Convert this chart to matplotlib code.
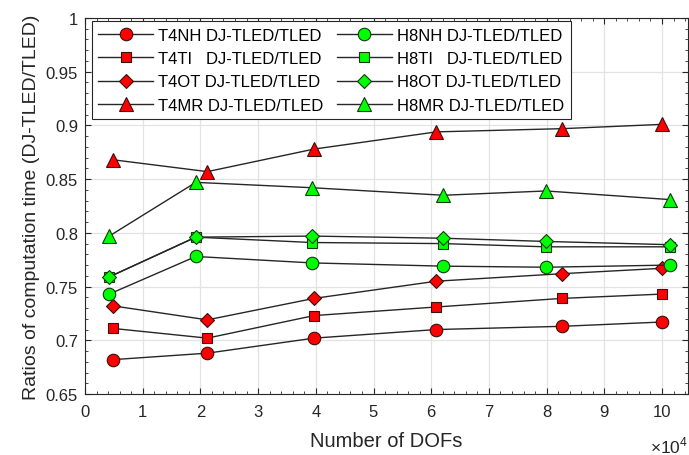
import matplotlib
matplotlib.use("Agg")
import matplotlib.pyplot as plt
from matplotlib.ticker import MultipleLocator

plt.rcParams["font.family"] = ["Liberation Sans", "DejaVu Sans"]
plt.rcParams["mathtext.fontset"] = "custom"
plt.rcParams["mathtext.rm"] = "Liberation Sans"

# ── 数据 (DOFs 单位: 1e4) ──
dofs_t4 = [0.49, 2.12, 3.97, 6.09, 8.27, 10.0]
dofs_h8 = [0.42, 1.92, 3.94, 6.21, 7.99, 10.13]

t4nh = [0.682, 0.688, 0.702, 0.710, 0.713, 0.717]
t4ti = [0.711, 0.702, 0.723, 0.731, 0.739, 0.743]
t4ot = [0.732, 0.719, 0.739, 0.755, 0.762, 0.767]
t4mr = [0.868, 0.857, 0.878, 0.894, 0.897, 0.901]

h8nh = [0.743, 0.778, 0.772, 0.769, 0.768, 0.770]
h8ti = [0.759, 0.796, 0.791, 0.790, 0.787, 0.787]
h8ot = [0.759, 0.796, 0.797, 0.795, 0.792, 0.789]
h8mr = [0.797, 0.847, 0.842, 0.835, 0.839, 0.831]

labels_t4 = ["T4NH DJ-TLED/TLED", "T4TI   DJ-TLED/TLED",
             "T4OT DJ-TLED/TLED", "T4MR DJ-TLED/TLED"]
labels_h8 = ["H8NH DJ-TLED/TLED", "H8TI   DJ-TLED/TLED",
             "H8OT DJ-TLED/TLED", "H8MR DJ-TLED/TLED"]

markers = ["o", "s", "D", "^"]
msizes = [9, 7, 7.5, 9.5]

fig = plt.figure(figsize=(6.89, 4.56), dpi=100)
ax = fig.add_axes([0.1234, 0.1338, 0.8751, 0.8245])

handles = []
for ys, lab, m, ms in zip([t4nh, t4ti, t4ot, t4mr], labels_t4, markers, msizes):
    h, = ax.plot(dofs_t4, ys, color="#262626", lw=1.0, marker=m, ms=ms,
                 mfc="#ff0000", mec="#3a1010", mew=0.8, label=lab, zorder=3)
    handles.append(h)
for ys, lab, m, ms in zip([h8nh, h8ti, h8ot, h8mr], labels_h8, markers, msizes):
    h, = ax.plot(dofs_h8, ys, color="#262626", lw=1.0, marker=m, ms=ms,
                 mfc="#00ff00", mec="#103a10", mew=0.8, label=lab, zorder=3)
    handles.append(h)

ax.set_xlim(0, 10.45)
ax.set_ylim(0.65, 1.0)
ax.xaxis.set_major_locator(MultipleLocator(1))
ax.xaxis.set_minor_locator(MultipleLocator(0.2))
ax.yaxis.set_major_locator(MultipleLocator(0.05))
ax.yaxis.set_minor_locator(MultipleLocator(0.01))
ax.yaxis.set_major_formatter(plt.FuncFormatter(lambda v, p: f"{v:g}"))

ax.grid(True, which="major", color="#e3e3e3", lw=0.9)
ax.set_axisbelow(True)
ax.tick_params(which="both", direction="in", top=True, right=True,
               colors="#262626", labelsize=12)
ax.tick_params(axis="x", pad=7.5)
ax.tick_params(axis="y", pad=5)
ax.tick_params(which="major", length=4)
ax.tick_params(which="minor", length=2)
for s in ax.spines.values():
    s.set_color("#262626")
    s.set_linewidth(0.8)

ax.set_xlabel("Number of DOFs", fontsize=14.5, color="#262626", labelpad=8)
ax.set_ylabel("Ratios of computation time (DJ-TLED/TLED)", fontsize=14,
              color="#262626", labelpad=4)
ax.text(1.0, -0.135, r"$\times10^{4}$", transform=ax.transAxes,
        ha="right", va="center", fontsize=12.5, color="#262626")

leg = ax.legend(handles=handles, ncol=2, loc="upper left",
                bbox_to_anchor=(0.011, 0.992), borderaxespad=0,
                fontsize=12, handlelength=3.3, handletextpad=0.3,
                columnspacing=0.8, labelspacing=0.5, borderpad=0.4,
                fancybox=False, framealpha=1, edgecolor="#262626")
leg.get_frame().set_linewidth(0.8)

fig.savefig("out.png", dpi=100)
